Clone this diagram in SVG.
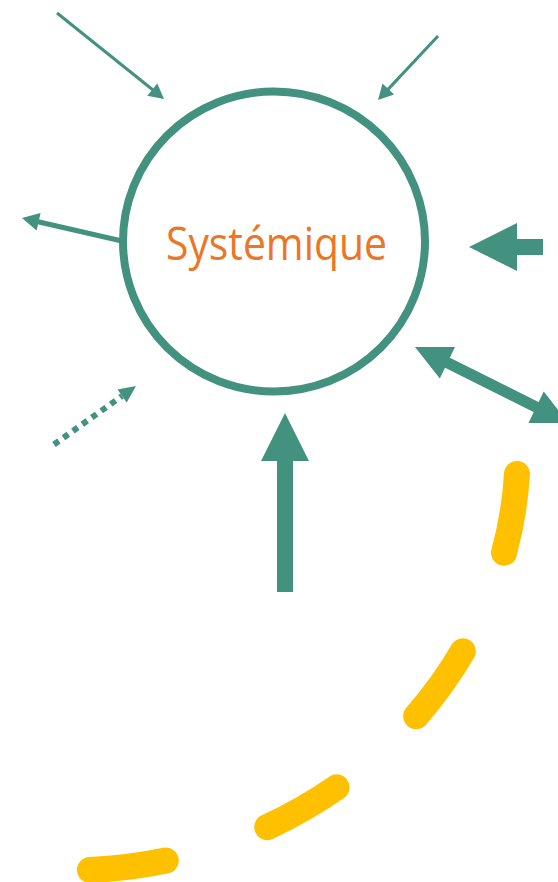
<svg xmlns="http://www.w3.org/2000/svg" width="558" height="882" viewBox="0 0 558 882">
<style>
.ln{stroke:#43917F;fill:none}
.hd{fill:#43917F;stroke:none}
.lbl{font-family:"Open Sans","Noto Sans",sans-serif;font-size:46px;fill:#EB7626}
</style>
<rect width="558" height="882" fill="#ffffff"/>
<g id="systemique">
<ellipse cx="274" cy="241.5" rx="151" ry="150" fill="#ffffff" stroke="#43917F" stroke-width="8"/>
<text class="lbl" x="276.5" y="260" text-anchor="middle" textLength="221" lengthAdjust="spacingAndGlyphs">Systémique</text>
</g>
<g id="connectors">
<line class="ln" x1="57" y1="13" x2="153" y2="90" stroke-width="3"/>
<polygon class="hd" points="164,99 147.3,95.8 157.3,83.4"/>
<line class="ln" x1="438" y1="36" x2="388" y2="89.4" stroke-width="3"/>
<polygon class="hd" points="378,100 394.1,94.5 382.5,83.6"/>
<line class="ln" x1="122" y1="241" x2="38" y2="221.7" stroke-width="5"/>
<polygon class="hd" points="22,218 40.6,213 36.6,230.6"/>
<line class="ln" x1="54" y1="444.5" x2="122" y2="396" stroke-width="6" stroke-dasharray="6 5.6"/>
<polygon class="hd" points="136,386 126.7,402.4 117.5,389.4"/>
<polygon class="hd" points="469,247 517,223 517,239 543,239 543,255 517,255 517,271"/>
<polygon class="hd" points="285,413 309,461 293,461 293,592 277,592 277,461 261,461"/>
<line class="ln" x1="446" y1="362" x2="538" y2="408" stroke-width="11"/>
<polygon class="hd" points="415,347 455,346.9 439.8,378.5"/>
<polygon class="hd" points="568.5,423 543.7,391.5 528.5,423.1"/>
<path d="M 517 474 A 449 421 0 0 1 90 870" fill="none" stroke="#FFC000" stroke-width="26" stroke-linecap="round" stroke-dasharray="80 107"/>
</g>
</svg>
